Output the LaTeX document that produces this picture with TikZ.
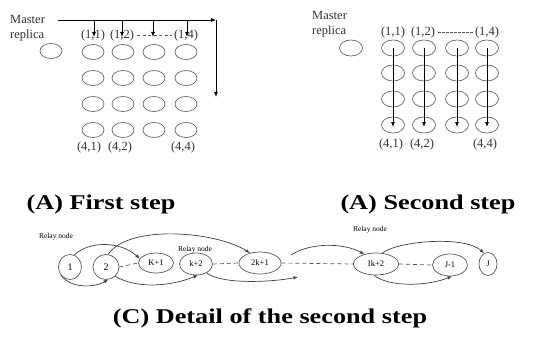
\documentclass[tikz,border=0pt]{standalone}
\usepackage{fontspec}
\setmainfont{Liberation Serif}
\usetikzlibrary{shapes.geometric,arrows.meta}

\tikzset{
  rep/.style={ellipse,draw=black!60,line width=0.7pt,minimum width=22pt,minimum height=15pt,inner sep=0pt},
  lbl/.style={font=\fontsize{12.5}{15}\selectfont,text=black!80,inner sep=0pt},
  steptitle/.style={font=\fontsize{21}{25}\selectfont\bfseries,inner sep=0pt,xscale=1.25,transform shape},
  arr/.style={-{Latex[length=5pt,width=4pt]},line width=0.8pt},
  hop/.style={ellipse,draw=black!65,line width=0.7pt,inner sep=0pt,font=\fontsize{8.5}{10}\selectfont},
  relay/.style={font=\fontsize{7.5}{9}\selectfont,inner sep=0pt},
  jump/.style={-{Latex[length=4.5pt,width=3.5pt]},line width=0.7pt,draw=black!75},
  gap/.style={dash pattern=on 4pt off 3pt,line width=0.7pt,draw=black!65}
}

\begin{document}
\begin{tikzpicture}[x=1pt,y=-1pt]
   \useasboundingbox (0,0) rectangle (541,337);
   \node[lbl,align=left,anchor=west] (ma) at (10,28) {Master\\replica};
   \node[rep] (ma0) at (51,51) {};
   \foreach \c/\x in {1/93,2/123,3/154,4/186} {
    \foreach \r/\y in {1/52,2/78,3/104,4/130} {
     \node[rep] (a\r\c) at (\x,\y) {};
    }
   }
   \node[lbl] (la11) at (93,35) {(1,1)};
   \node[lbl] (la12) at (122,35) {(1,2)};
   \node[lbl] (la14) at (186,35) {(1,4)};
   \node[lbl] (la41) at (89,147) {(4,1)};
   \node[lbl] (la42) at (120,147) {(4,2)};
   \node[lbl] (la44) at (183,147) {(4,4)};
   \draw[gap,dash pattern=on 3pt off 2.5pt] ([xshift=3pt]la12.east) -- ([xshift=-2pt]la14.west);
   \coordinate (s0) at (58,20);
   \coordinate (cor) at (216,20);
   \coordinate (s2) at (216,97);
   \draw[arr] (s0) -- (cor);
   \draw[arr] (cor) -- (s2);
   \foreach \c/\x in {1/94,2/122,3/153,4/187} {
    \coordinate (t\c) at (\x,20);
    \coordinate (d\c) at (\x,37);
    \draw[arr] (t\c) -- (d\c);
   }

   \node[lbl,align=left,anchor=west] (mb) at (312,24) {Master\\replica};
   \node[rep,minimum width=23pt,minimum height=16pt] (mb0) at (351,48) {};
   \foreach \c/\x in {1/393,2/424,3/457,4/487} {
    \foreach \r/\y in {1/48,2/73,3/99,4/125} {
     \node[rep,minimum width=23pt,minimum height=16pt] (b\r\c) at (\x,\y) {};
    }
    \draw[arr] (b1\c.center) -- ([yshift=-2pt]b4\c.center);
   }
   \node[lbl] (lb11) at (393,32) {(1,1)};
   \node[lbl] (lb12) at (423,32) {(1,2)};
   \node[lbl] (lb14) at (487,32) {(1,4)};
   \node[lbl] (lb41) at (391,144) {(4,1)};
   \node[lbl] (lb42) at (422,144) {(4,2)};
   \node[lbl] (lb44) at (485,144) {(4,4)};
   \draw[gap,dash pattern=on 2.5pt off 1.5pt] ([xshift=3pt]lb12.east) -- ([xshift=-1pt]lb14.west);

   \node[steptitle] (c1) at (101,204) {(A) First step};
   \node[steptitle] (c2) at (428,204) {(A) Second step};
   \node[steptitle] (c3) at (270,318) {(C) Detail of the second step};

   \node[relay] (r1) at (56,237) {Relay node};
   \node[relay] (r2) at (195,250) {Relay node};
   \node[relay] (r3) at (370,230) {Relay node};
   \node[hop,minimum width=23pt,minimum height=25pt,font=\fontsize{10}{12}\selectfont] (n1) at (70,267) {1};
   \node[hop,minimum width=26pt,minimum height=25pt,font=\fontsize{10}{12}\selectfont] (n2) at (106,267) {2};
   \node[hop,minimum width=35pt,minimum height=20pt] (k1) at (156,263) {K+1};
   \node[hop,minimum width=33pt,minimum height=22pt] (k2) at (196,264) {k+2};
   \node[hop,minimum width=42pt,minimum height=22pt] (k3) at (260,263) {2k+1};
   \node[hop,minimum width=45pt,minimum height=22pt] (k4) at (376,264) {Ik+2};
   \node[hop,minimum width=35pt,minimum height=22pt] (k5) at (450,265) {J-1};
   \node[hop,minimum width=18pt,minimum height=23pt] (k6) at (488,264) {J};
   \draw[gap] (n2.east) -- (k1.west);
   \draw[gap] (k2.east) -- (k3.west);
   \draw[gap] (k3.east) -- (k4.west);
   \draw[gap] (k4.east) -- (k5.west);
   \coordinate (e5) at (298,277);
   \coordinate (e6) at (291,255);
   \draw[jump] (n1.70) .. controls +(14,-14) and +(-20,-18) .. (k1.165);
   \draw[jump] (n1.-140) .. controls +(10,14) and +(-14,8) .. (n2.-80);
   \draw[jump] (n2.80) .. controls +(20,-30) and +(-35,-22) .. (k3.135);
   \draw[jump] (n2.-45) .. controls +(20,12) and +(-30,12) .. (k2.-80);
   \draw[jump] (k2.-40) .. controls +(15,12) and +(-25,5) .. (e5);
   \draw[jump] (e6) .. controls +(18,-12) and +(-22,-12) .. (k4.140);
   \draw[jump] (k4.60) .. controls +(15,-12) and +(-20,-18) .. (k6.110);
   \draw[jump] (k4.-100) .. controls +(15,12) and +(-25,10) .. (k5.-80);
  \end{tikzpicture}
\end{document}
